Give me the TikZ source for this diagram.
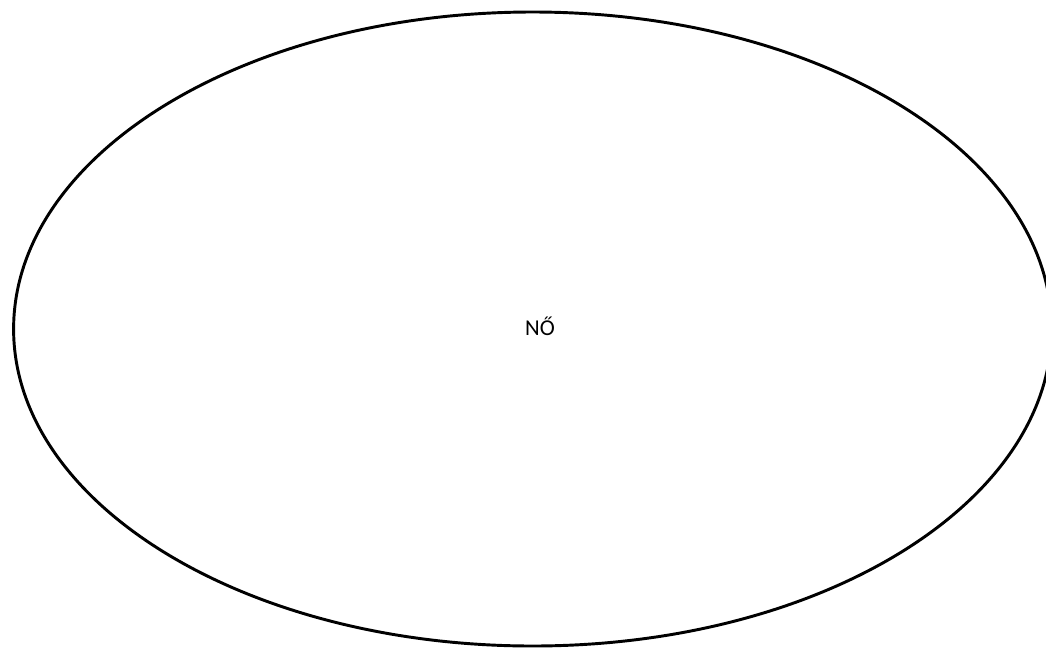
\documentclass[tikz,border=0pt]{standalone}
\usepackage{fontspec}
\setmainfont{Carlito}
\begin{document}
\begin{tikzpicture}[x=0.75pt,y=-0.75pt]
  \useasboundingbox (0,0) rectangle (1046,654);
  \draw[line width=2.2pt] (532.6,329) ellipse [x radius=519, y radius=317];
  \node[font=\fontsize{17}{20}\selectfont] (no) at (540,326) {NŐ};
\end{tikzpicture}
\end{document}
